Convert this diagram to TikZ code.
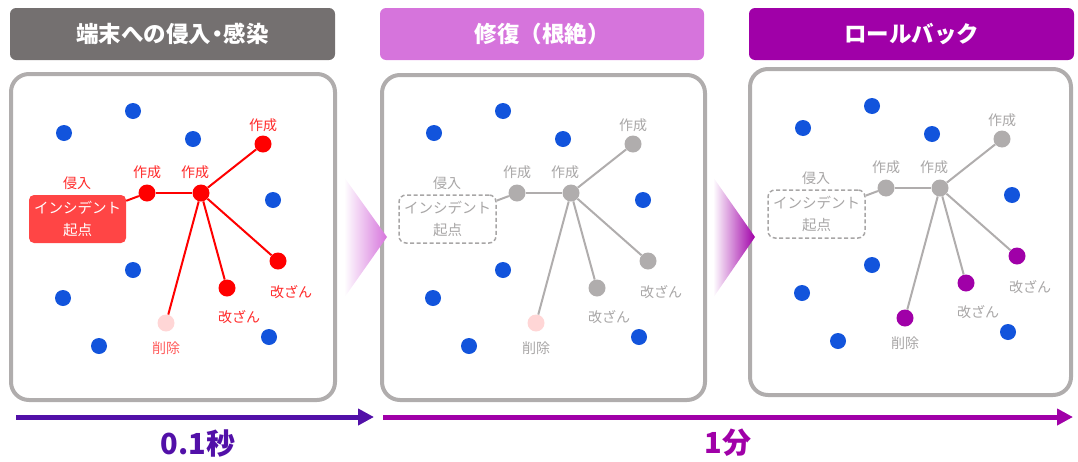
\documentclass[tikz,border=0pt]{standalone}
\usepackage{fontspec}
\setmainfont{Noto Sans CJK JP}
\usetikzlibrary{shapes.geometric,arrows.meta}
\definecolor{hdrgray}{HTML}{747070}
\definecolor{hdrpink}{HTML}{D674DC}
\definecolor{hdrpurple}{HTML}{A000A8}
\definecolor{panelgray}{HTML}{B0ADAD}
\definecolor{dotblue}{HTML}{1254DC}
\definecolor{netred}{HTML}{FF0000}
\definecolor{lblred}{HTML}{FF2A2A}
\definecolor{lbldel}{HTML}{FF5A5A}
\definecolor{delpink}{HTML}{FFD6D6}
\definecolor{boxred}{HTML}{FF4545}
\definecolor{netgray}{HTML}{B0ADAD}
\definecolor{txtgray}{HTML}{A8A6A6}
\definecolor{arrowindigo}{HTML}{5210A8}
\tikzset{
  header/.style={rounded corners=6pt, minimum height=52pt, text=white,
    font=\fontsize{22.5}{24}\selectfont\bfseries, inner sep=0pt},
  panel/.style={draw=panelgray, line width=4pt, rounded corners=18pt},
  bluedot/.style={circle, fill=dotblue, minimum size=16pt, inner sep=0pt},
  lblbase/.style={font=\fontsize{14}{15}\selectfont, inner sep=0pt},
  boxbase/.style={minimum width=97pt, minimum height=48pt, align=center,
    font=\fontsize{14.5}{22}\selectfont, inner sep=0pt},
  timeline/.style={line width=5pt, -{Triangle[length=16pt,width=16pt]}},
  timelbl/.style={font=\fontsize{29}{30}\selectfont\bfseries, inner sep=0pt},
}
\newcommand\netcontent[1]{%
  \foreach \bx/\by [count=\k] in {64/133,133/111,193/139,273/200,133/270,63/298,99/346,269/337}
    {\node[bluedot] (#1b\k) at (\bx,\by) {};}
  \node[incbox] (#1box) at (77.5,219) {インシデント\\起点};
  \node[lbl] (#1lin) at (77,183) {侵入};
  \node[createdot] (#1c1) at (147,193) {};
  \node[createdot] (#1c2) at (201,193) {};
  \node[createdot] (#1c3) at (263,144) {};
  \node[tamperdot] (#1t1) at (278,261) {};
  \node[tamperdot] (#1t2) at (227,288) {};
  \node[deldot] (#1d) at (166,323) {};
  \node[lbl] (#1lc1) at (147,172) {作成};
  \node[lbl] (#1lc2) at (195,172) {作成};
  \node[lbl] (#1lc3) at (263,125) {作成};
  \node[lbl] (#1lt1) at (291,292) {改ざん};
  \node[lbl] (#1lt2) at (239,317) {改ざん};
  \node[dellbl] (#1ld) at (166,348) {削除};
  \draw[netline] (#1c1) -- (#1box);
  \draw[netline] (#1c1) -- (#1c2);
  \draw[netline] (#1c2) -- (#1c3);
  \draw[netline] (#1c2) -- (#1t1);
  \draw[netline] (#1c2) -- (#1t2);
  \draw[netline] (#1c2) -- (#1d);
}
\begin{document}
\begin{tikzpicture}[x=1pt,y=-1pt]
\useasboundingbox (0,0) rectangle (1078,461);
% headers
\node[header, fill=hdrgray, minimum width=325pt] (h1) at (172.5,34) {端末への侵入{\kern-5pt}・{\kern-5pt}感染};
\node[header, fill=hdrpink, minimum width=324pt] (h2) at (542,34) {修復（根絶）};
\node[header, fill=hdrpurple, minimum width=325pt] (h3) at (911.5,34) {ロールバック};
% panels
\draw[panel] (11,74) rectangle (335,400);
\draw[panel] (382,75) rectangle (705,400);
\draw[panel] (750,69) rectangle (1071,395);
% panel 1
\begin{scope}[
  netline/.style={draw=netred, line width=2pt},
  createdot/.style={circle, fill=netred, minimum size=17pt, inner sep=0pt},
  tamperdot/.style={circle, fill=netred, minimum size=17pt, inner sep=0pt},
  deldot/.style={circle, fill=delpink, minimum size=17pt, inner sep=0pt},
  lbl/.style={lblbase, text=lblred},
  dellbl/.style={lblbase, text=lbldel},
  incbox/.style={boxbase, fill=boxred, rounded corners=5pt, text=white}]
\netcontent{p}
\end{scope}
% panel 2
\begin{scope}[shift={(370,0)},
  netline/.style={draw=netgray, line width=2pt},
  createdot/.style={circle, fill=netgray, minimum size=17pt, inner sep=0pt},
  tamperdot/.style={circle, fill=netgray, minimum size=17pt, inner sep=0pt},
  deldot/.style={circle, fill=delpink, minimum size=17pt, inner sep=0pt},
  lbl/.style={lblbase, text=txtgray},
  dellbl/.style={lblbase, text=txtgray},
  incbox/.style={boxbase, draw=txtgray, line width=1.5pt, dash pattern=on 4pt off 2.5pt,
    rounded corners=7pt, text=txtgray}]
\netcontent{q}
\end{scope}
% panel 3
\begin{scope}[shift={(739,-5)},
  netline/.style={draw=netgray, line width=2pt},
  createdot/.style={circle, fill=netgray, minimum size=17pt, inner sep=0pt},
  tamperdot/.style={circle, fill=hdrpurple, minimum size=17pt, inner sep=0pt},
  deldot/.style={circle, fill=hdrpurple, minimum size=17pt, inner sep=0pt},
  lbl/.style={lblbase, text=txtgray},
  dellbl/.style={lblbase, text=txtgray},
  incbox/.style={boxbase, draw=txtgray, line width=1.5pt, dash pattern=on 4pt off 2.5pt,
    rounded corners=7pt, text=txtgray}]
\netcontent{r}
\end{scope}
% chevrons
\shade[left color=white, right color=hdrpink] (344,177) -- (387,237) -- (344,298) -- cycle;
\shade[left color=white, right color=hdrpurple] (713,177) -- (755,237) -- (713,298) -- cycle;
% timeline
\coordinate (a1s) at (16,417);
\coordinate (a1e) at (374,417);
\coordinate (a2s) at (383,417);
\coordinate (a2e) at (1073,417);
\draw[timeline, draw=arrowindigo, fill=arrowindigo] (a1s) -- (a1e);
\draw[timeline, draw=hdrpurple, fill=hdrpurple] (a2s) -- (a2e);
\node[timelbl, text=arrowindigo] (t1) at (198,443) {0.1秒};
\node[timelbl, text=hdrpurple] (t2) at (728,443) {1分};
\end{tikzpicture}
\end{document}
